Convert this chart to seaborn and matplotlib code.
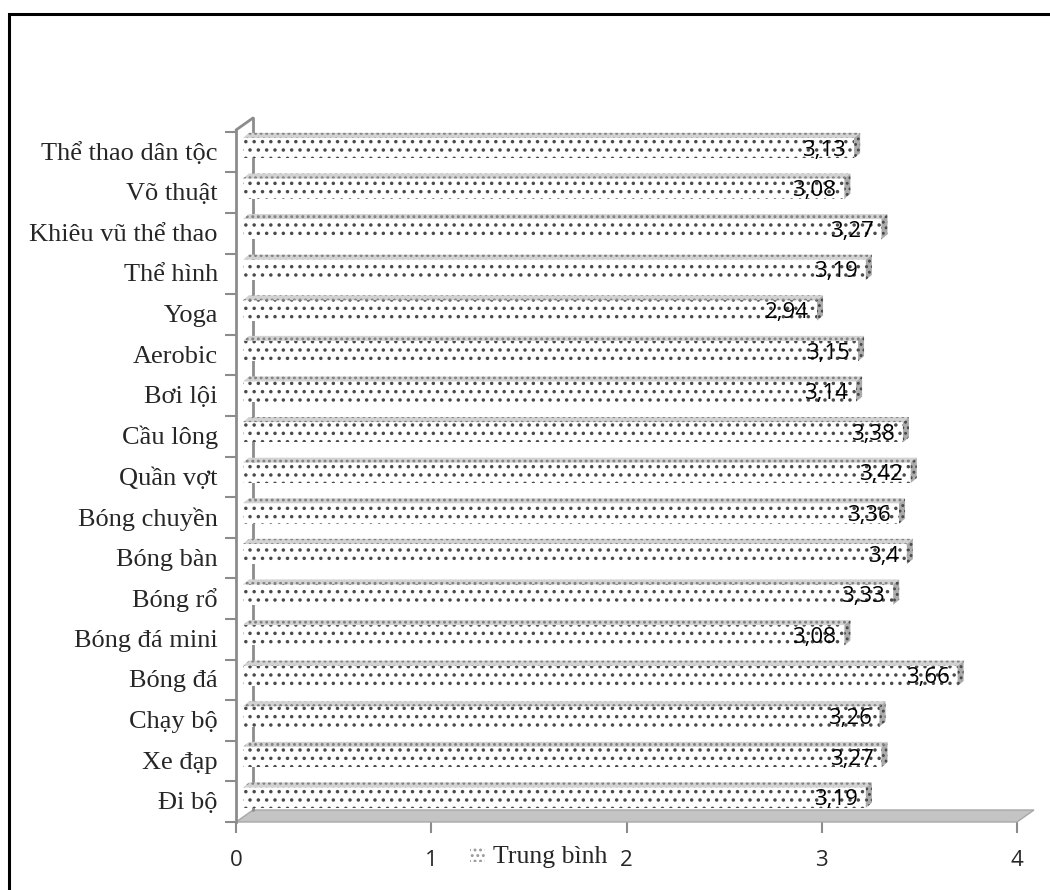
import matplotlib
matplotlib.use("Agg")
import matplotlib.pyplot as plt
import matplotlib.transforms as mtransforms
from matplotlib.patches import Polygon, Rectangle, Patch
from matplotlib.lines import Line2D
import seaborn as sns
import pandas as pd

categories = ["Thể thao dân tộc", "Võ thuật", "Khiêu vũ thể thao", "Thể hình", "Yoga",
              "Aerobic", "Bơi lội", "Cầu lông", "Quần vợt", "Bóng chuyền", "Bóng bàn",
              "Bóng rổ", "Bóng đá mini", "Bóng đá", "Chạy bộ", "Xe đạp", "Đi bộ"]
values = [3.13, 3.08, 3.27, 3.19, 2.94, 3.15, 3.14, 3.38, 3.42, 3.36, 3.4,
          3.33, 3.08, 3.66, 3.26, 3.27, 3.19]
series_name = "Trung bình"
x_ticks = [0, 1, 2, 3, 4]

df = pd.DataFrame({"cat": categories, "val": values})

sns.set_style("white")
plt.rcParams["hatch.linewidth"] = 1.3
SERIF = ["Liberation Serif", "DejaVu Serif"]
SANS = ["Open Sans", "DejaVu Sans"]

W, H = 1050, 890
fig = plt.figure(figsize=(W / 100, H / 100), dpi=100)
fig.patch.set_facecolor("white")

# outer frame (extends beyond page)
fig.patches.append(Rectangle((9 / W, -0.2), 1.5, (H - 14) / H + 0.2,
                             transform=fig.transFigure, fill=False,
                             edgecolor="black", linewidth=2.2, zorder=0))

ax_left, ax_right = 236 / W, 1017 / W
ax_top, ax_bot = 1 - 130 / H, 1 - 822 / H
ax = fig.add_axes([ax_left, ax_bot, ax_right - ax_left, ax_top - ax_bot])
ax.patch.set_alpha(0)

sns.barplot(data=df, x="val", y="cat", orient="h", ax=ax, color="white",
            width=0.5, hatch="..", edgecolor="#4a4a4a", linewidth=0, zorder=3)

ylo, yhi = 16.6, -0.444
ax.set_xlim(0, 4)
ax.set_ylim(ylo, yhi)

px_x = 195.25   # pixels per x unit
px_y = 40.56    # pixels per category
bar_off_px = 7
bar_tr = mtransforms.offset_copy(ax.transData, fig=fig, x=bar_off_px, y=0, units="dots")

# depth of bar 3D faces
ddx = 6 / px_x
ddy = 5 / px_y

for p in ax.patches:
    p.set_transform(bar_tr)
    x0, y0 = p.get_x(), p.get_y()
    w, h = p.get_width(), p.get_height()
    x1 = x0 + w
    ytop = min(y0, y0 + h)
    ybot = max(y0, y0 + h)
    top = Polygon([(x0, ytop), (x1, ytop), (x1 + ddx, ytop - ddy), (x0 + ddx, ytop - ddy)],
                  closed=True, facecolor="#d2d2d2", edgecolor="#808080", hatch="...",
                  linewidth=0, transform=bar_tr, zorder=3, clip_on=False)
    side = Polygon([(x1, ytop), (x1 + ddx, ytop - ddy), (x1 + ddx, ybot - ddy), (x1, ybot)],
                   closed=True, facecolor="#ababab", edgecolor="#454545", hatch="...",
                   linewidth=0, transform=bar_tr, zorder=3, clip_on=False)
    ax.add_patch(top)
    ax.add_patch(side)

# value labels
lab_tr = mtransforms.offset_copy(ax.transData, fig=fig, x=bar_off_px - 8, y=-2, units="dots")
for i, v in enumerate(values):
    ax.text(v, i, str(v).replace(".", ","), transform=lab_tr, ha="right", va="center",
            fontsize=16, family=SANS, color="black", zorder=5)

# back wall / floor in depth
bdx = 17 / px_x
bdy = 12 / px_y
gray = "#8c8c8c"
floor = Polygon([(0, ylo), (4, ylo), (4 + bdx, ylo - bdy), (0 + bdx, ylo - bdy)],
                closed=True, facecolor="#c4c4c4", edgecolor="#a8a8a8", linewidth=1,
                zorder=1, clip_on=False)
ax.add_patch(floor)
ax.add_line(Line2D([bdx, bdx], [ylo - bdy, yhi - bdy], color=gray, linewidth=2,
                   zorder=1, clip_on=False))
ax.add_line(Line2D([0, bdx], [yhi, yhi - bdy], color=gray, linewidth=2,
                   zorder=1, clip_on=False))

for s in ["top", "right", "bottom"]:
    ax.spines[s].set_visible(False)
ax.spines["left"].set_color(gray)
ax.spines["left"].set_linewidth(2)
ax.spines["left"].set_zorder(2)

# ticks
ax.set_xticks(x_ticks)
ax.set_xticklabels([str(t) for t in x_ticks], family=SANS, fontsize=16)
ax.tick_params(axis="x", which="major", direction="out", length=8, width=1.5,
               color=gray, pad=12, bottom=True)
ax.set_yticks(range(len(categories)))
ax.set_yticklabels(categories, family=SERIF, fontsize=19)
ax.tick_params(axis="y", which="major", length=0, pad=13)
shift = mtransforms.ScaledTranslation(0, -3 / 100, fig.dpi_scale_trans)
for lbl in ax.get_yticklabels():
    lbl.set_transform(lbl.get_transform() + shift)
ax.set_yticks([i + 0.6 for i in range(-1, len(categories))], minor=True)
ax.tick_params(axis="y", which="minor", direction="out", length=8, width=1.5, color=gray, left=True)
ax.set_xlabel("")
ax.set_ylabel("")

handle = Patch(facecolor="white", edgecolor="#999999", hatch="...", linewidth=0)
fig.legend(handles=[handle], labels=[series_name], loc="center",
           bbox_to_anchor=(0.513, 1 - 857 / H), frameon=False,
           prop={"family": SERIF, "size": 18.5}, handlelength=0.6, handleheight=0.6,
           handletextpad=0.3)

fig.savefig("out.png", dpi=100)
